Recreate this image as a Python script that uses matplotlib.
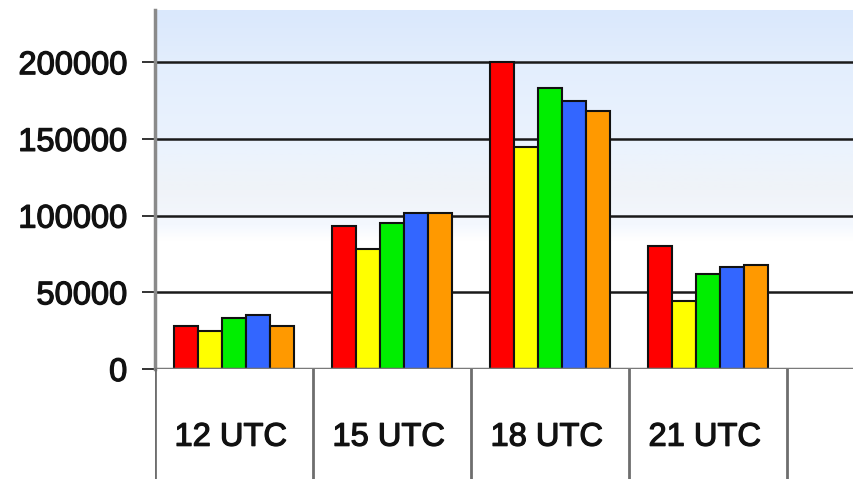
import numpy as np
import matplotlib
matplotlib.use("Agg")
import matplotlib.pyplot as plt
import matplotlib.patheffects as pe
from matplotlib.colors import LinearSegmentedColormap

categories = ["12 UTC", "15 UTC", "18 UTC", "21 UTC"]
series_red = [28000, 93000, 200000, 80000]
series_yellow = [25000, 78000, 144500, 44500]
series_green = [33000, 95000, 183000, 62000]
series_blue = [35000, 101500, 175000, 66500]
series_orange = [28000, 101500, 168000, 67500]
ytick_values = [0, 50000, 100000, 150000, 200000]

series = [series_red, series_yellow, series_green, series_blue, series_orange]
colors = ["#ff0000", "#ffff00", "#00ee00", "#3366ff", "#ff9900"]

W, H, DPI = 854, 479, 100
fig = plt.figure(figsize=(W / DPI, H / DPI), dpi=DPI)
plt.rcParams["font.family"] = ["Liberation Sans", "DejaVu Sans"]

left = 155 / W
bottom = 1 - 369 / H
top = 1 - 10 / H
ax = fig.add_axes([left, bottom, 1 - left, top - bottom])

xmin = -0.5
xmax = -0.5 + (W - 155) / 158.0
ymax = 234000
ax.set_xlim(xmin, xmax)
ax.set_ylim(0, ymax)

# soft blue wash fading to white toward the middle of the plot
grad_cmap = LinearSegmentedColormap.from_list(
    "wash",
    [(0.0, "#ffffff"), (0.36, "#ffffff"), (0.40, "#f4f8fe"),
     (0.50, "#f0f3f8"), (0.62, "#ebf3fe"), (0.85, "#e3eefd"),
     (1.0, "#dae8fc")],
)
grad = np.linspace(0, 1, 256).reshape(-1, 1)
ax.imshow(grad, cmap=grad_cmap, origin="lower", aspect="auto",
          extent=[xmin, xmax, 0, ymax], zorder=0)

# horizontal grid lines
for v in ytick_values[1:]:
    ax.axhline(v, color="#1a1a1a", lw=1.8, zorder=1)

n = len(series)
bw = 0.153
x = np.arange(len(categories))
for i, (vals, c) in enumerate(zip(series, colors)):
    ax.bar(x + (i - (n - 1) / 2) * bw, vals, width=bw, color=c,
           edgecolor="#111111", linewidth=1.5, zorder=3)

for s in ["top", "right", "bottom"]:
    ax.spines[s].set_visible(False)
ax.spines["left"].set_color("#8a8a8a")
ax.spines["left"].set_linewidth(2.5)
ax.axhline(0, color="#7a7a7a", lw=2.5, zorder=4)

heavy = [pe.withStroke(linewidth=0.9, foreground="#111111")]

ax.set_yticks(ytick_values)
ax.set_yticklabels([str(v) for v in ytick_values], fontsize=23.5,
                   color="#111111")
for t in ax.get_yticklabels():
    t.set_path_effects(heavy)
ax.tick_params(axis="y", length=9.5, width=1.2, color="#111111", pad=10.5)
ax.set_xticks([])

# category table below the axis
cax = fig.add_axes([left, 0, 1 - left, bottom])
cax.set_xlim(xmin, xmax)
cax.set_ylim(0, 1)
cax.axis("off")
for b in np.arange(-0.5, xmax, 1.0):
    cax.axvline(b, color="#6e6e6e", lw=2.0)
for xi, lab in zip(x, categories):
    cax.text(xi - 0.02, 0.38, lab, ha="center", va="center", fontsize=23.5,
             color="#111111", path_effects=heavy)

fig.savefig("out.png", dpi=DPI)
